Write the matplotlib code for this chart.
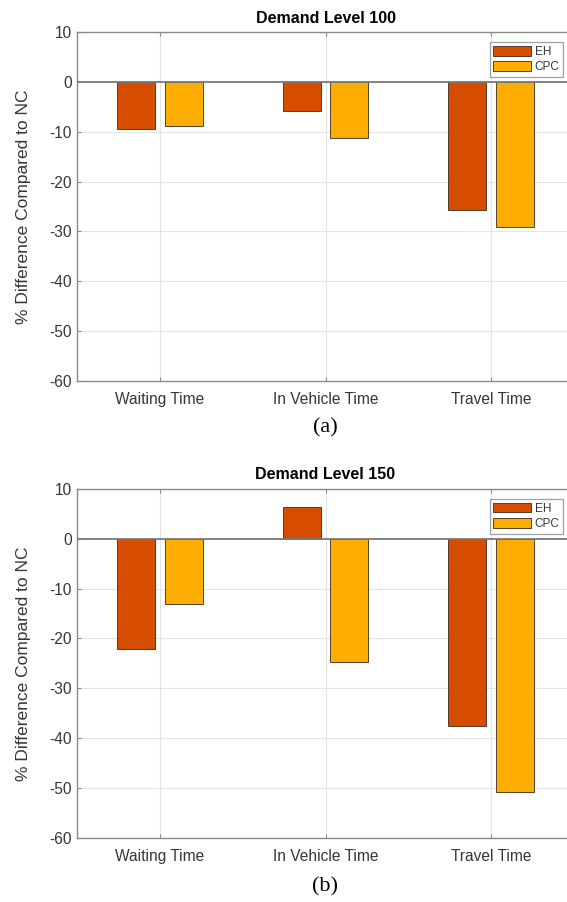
import numpy as np
import matplotlib.pyplot as plt

plt.rcParams['font.family'] = ['Liberation Sans', 'DejaVu Sans']
plt.rcParams['axes.unicode_minus'] = False

categories = ["Waiting Time", "In Vehicle Time", "Travel Time"]
series = ["EH", "CPC"]
eh_100 = [-9.4, -5.9, -25.8]
cpc_100 = [-8.8, -11.3, -29.1]
eh_150 = [-22.1, 6.3, -37.6]
cpc_150 = [-13.0, -24.8, -50.9]
titles = ["Demand Level 100", "Demand Level 150"]
panel_tags = ["(a)", "(b)"]

col_eh = "#D64D00"
col_cpc = "#FCAD00"
txt_col = "#363636"

W, H = 567, 902
fig = plt.figure(figsize=(W / 100, H / 100), dpi=100)

# axes boxes in pixels: left, top, bottom
left_px, width_px = 77.3, 496.5
boxes = [(32.3, 380.7), (489.0, 837.7)]
tag_y = [428, 887]
data = [(eh_100, cpc_100), (eh_150, cpc_150)]

x = np.arange(1, len(categories) + 1)
bw = 0.229
off = 0.143

for i, ((top, bot), (eh, cpc)) in enumerate(zip(boxes, data)):
    ax = fig.add_axes([left_px / W, 1 - bot / H, width_px / W, (bot - top) / H])
    ax.set_axisbelow(True)
    ax.grid(True, color="#e4e4e4", linewidth=0.8)
    ax.bar(x - off, eh, bw, color=col_eh, edgecolor="#3b2a20", linewidth=0.6, label=series[0], zorder=3)
    ax.bar(x + off, cpc, bw, color=col_cpc, edgecolor="#3b2a20", linewidth=0.6, label=series[1], zorder=3)
    ax.axhline(0, color="#7a7a7a", linewidth=1.3, zorder=4)

    ax.set_xlim(0.5, 3.5)
    ax.set_ylim(-60, 10)
    ax.set_yticks(np.arange(-60, 11, 10))
    ax.set_xticks(x)
    ax.set_xticklabels(categories)
    ax.tick_params(axis="both", direction="in", colors="#8a8a8a", labelcolor=txt_col,
                   labelsize=11.2, length=3, width=0.8, top=True, right=True)
    ax.tick_params(axis="x", pad=8)
    ax.tick_params(axis="y", pad=4)
    for s in ax.spines.values():
        s.set_color("#8a8a8a")
        s.set_linewidth(1.0)

    ax.set_title(titles[i], fontsize=11.5, fontweight="bold", color="black", pad=7)
    ax.set_ylabel("% Difference Compared to NC", fontsize=12.5, color=txt_col)
    ax.yaxis.set_label_coords(-0.094, 0.5)

    leg = ax.legend(loc="upper right", bbox_to_anchor=(563 / W, 1 - (top + 10) / H),
                    bbox_transform=fig.transFigure, fontsize=8.5, frameon=True, fancybox=False,
                    handlelength=3.2, handleheight=0.9, handletextpad=0.3, labelspacing=0.3,
                    borderpad=0.3, borderaxespad=0)
    leg.get_frame().set_edgecolor("#8a8a8a")
    leg.get_frame().set_linewidth(0.9)
    for t in leg.get_texts():
        t.set_color(txt_col)

    fig.text(325 / W, 1 - tag_y[i] / H, panel_tags[i], family="Liberation Serif",
             fontsize=16, ha="center", va="center", color="black")

fig.savefig("out.png", dpi=100)
